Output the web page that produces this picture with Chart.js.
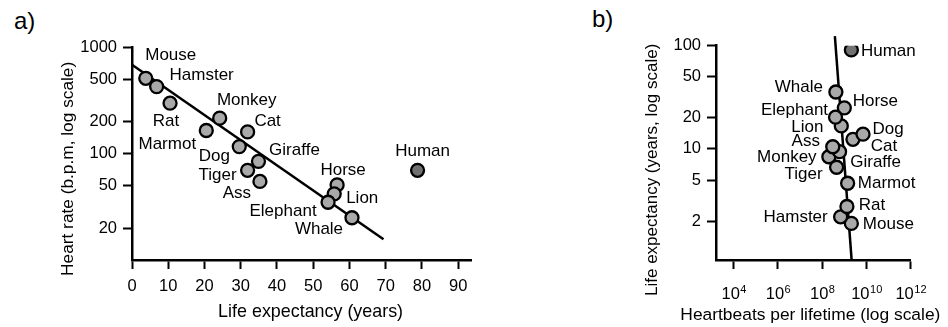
<!DOCTYPE html>
<html>
<head>
<meta charset="utf-8">
<script src="https://cdn.jsdelivr.net/npm/chart.js@4.4.1/dist/chart.umd.min.js"></script>
<style>
  body { margin: 0; background: #fff; width: 948px; height: 327px; position: relative; overflow: hidden;
         font-family: "Liberation Sans", Arial, sans-serif; }
  .panel-label { position: absolute; font-size: 24px; line-height: 1; color: #000; }
  #wrapA { position: absolute; left: 0; top: 0; width: 480px; height: 327px; }
  #wrapB { position: absolute; left: 600px; top: 0; width: 348px; height: 327px; }
</style>
</head>
<body>
<div class="panel-label" style="left:14px; top:9px">a)</div>
<div class="panel-label" style="left:592px; top:7px">b)</div>
<div id="wrapA"><canvas id="chartA"></canvas></div>
<div id="wrapB"><canvas id="chartB"></canvas></div>
<script>
// species, same order in both panels
const animals = ['Mouse', 'Hamster', 'Rat', 'Monkey', 'Marmot', 'Cat', 'Dog', 'Giraffe',
                 'Tiger', 'Ass', 'Horse', 'Lion', 'Elephant', 'Whale', 'Human'];

// panel a: life expectancy (years) vs heart rate (b.p.m.)
const lifeExpectancyA = [3.8, 6.8, 10.5, 24.2, 20.5, 31.9, 29.6, 34.9, 31.9, 35.3, 56.6, 55.8, 54.1, 60.7, 78.8];
const heartRate = [515, 430, 300, 217, 166, 161, 117, 85, 70, 55, 51, 42, 35, 25, 70];
const fitLineAx = [0, 69.4];
const fitLineAy = [690, 15.7];
const xTicksA = [0, 10, 20, 30, 40, 50, 60, 70, 80, 90];
const yTicksA = [20, 50, 100, 200, 500, 1000];

// panel b: heartbeats per lifetime vs life expectancy (years)
const heartbeats = [2.08e9, 6.8e8, 1.31e9, 2.0e8, 1.41e9, 2.45e9, 7.0e9, 6.1e8,
                    4.47e8, 3.0e8, 1.0e9, 7.3e8, 4.0e8, 4.15e8, 2.08e9];
const lifeExpectancyB = [1.9, 2.2, 2.77, 8.4, 4.65, 12.4, 13.9, 9.4, 6.65, 10.5, 25, 16.7, 20.3, 35.6, 91];
const fitLineBx = [3.74e8, 2.15e9];
const fitLineBy = [124, 0.83];
const xTicksB = [1e4, 1e6, 1e8, 1e10, 1e12];
const xTickExponentsB = ['4', '6', '8', '10', '12'];
const yTicksB = [2, 5, 10, 20, 50, 100];

// label placement (pixel offset from each point), kept apart from the data
const labelOffsetA = [[25, -23], [45, -11], [-4, 18], [27, -18], [-39, 14], [20, -11], [-25, 10], [36, -11],
                      [-30, 5], [-23, 12], [6, -15], [28, 4], [-45, 9], [-33, 12], [5, -19]];
const labelOffsetB = [[37, 1], [-45, 0], [25, -1], [-42, 1], [39, 0], [31, 7], [25, -5], [36, 11],
                      [-33, 7], [-27, -5], [31, -7], [-34, 1], [-41, -7], [-37, -5], [37, 1]];

const FONT = '"Liberation Sans", Arial, sans-serif';
const pointFill = animals.map(a => a === 'Human' ? '#717171' : '#a9a9a9');

Chart.defaults.font.family = FONT;
Chart.defaults.color = '#000';

// draws species names next to the points
const pointLabels = {
    id: 'pointLabels',
    afterDatasetsDraw(chart, args, opts) {
        const ctx = chart.ctx;
        const meta = chart.getDatasetMeta(0);
        ctx.save();
        ctx.font = '17px ' + FONT;
        ctx.fillStyle = '#000';
        ctx.textAlign = 'center';
        ctx.textBaseline = 'middle';
        meta.data.forEach((pt, i) => {
            const off = opts.offsets[i];
            ctx.fillText(animals[i], pt.x + off[0], pt.y + off[1]);
        });
        ctx.restore();
    }
};

// axis titles, placed relative to the plot area
const axisTitles = {
    id: 'axisTitles',
    afterDraw(chart, args, opts) {
        const ctx = chart.ctx;
        const area = chart.chartArea;
        ctx.save();
        ctx.fillStyle = '#000';
        ctx.textAlign = 'center';
        ctx.textBaseline = 'middle';
        ctx.font = opts.x.size + 'px ' + FONT;
        ctx.fillText(opts.x.text, (area.left + area.right) / 2 + opts.x.dx, opts.x.y);
        ctx.translate(opts.y.x, (area.top + area.bottom) / 2 + opts.y.dy);
        ctx.rotate(-Math.PI / 2);
        ctx.font = opts.y.size + 'px ' + FONT;
        ctx.fillText(opts.y.text, 0, 0);
        ctx.restore();
    }
};

// powers of ten under the log x axis of panel b
const powerTicks = {
    id: 'powerTicks',
    afterDraw(chart, args, opts) {
        if (!opts.exponents) return;
        const ctx = chart.ctx;
        const xs = chart.scales.x;
        ctx.save();
        ctx.fillStyle = '#000';
        ctx.textAlign = 'left';
        ctx.textBaseline = 'alphabetic';
        xs.ticks.forEach((t, i) => {
            const px = xs.getPixelForValue(t.value);
            ctx.font = '16.5px ' + FONT;
            const wBase = ctx.measureText('10').width;
            ctx.font = '11px ' + FONT;
            const wExp = ctx.measureText(opts.exponents[i]).width;
            const left = px - (wBase + wExp) / 2;
            ctx.font = '16.5px ' + FONT;
            ctx.fillText('10', left, opts.baseline);
            ctx.font = '11px ' + FONT;
            ctx.fillText(opts.exponents[i], left + wBase + 0.5, opts.baseline - 5.5);
        });
        ctx.restore();
    }
};

function axisStyle() {
    return {
        grid: { display: true, drawOnChartArea: false, drawTicks: true, tickLength: 9, tickWidth: 2, tickColor: '#000' },
        border: { display: true, color: '#000', width: 2.5 }
    };
}

function makeChart(id, cfg) {
    const pts = cfg.xs.map((x, i) => ({ x: x, y: cfg.ys[i] }));
    const fit = cfg.fitX.map((x, i) => ({ x: x, y: cfg.fitY[i] }));
    return new Chart(document.getElementById(id).getContext('2d'), {
        type: 'scatter',
        data: {
            datasets: [{
                data: pts,
                pointRadius: 6.5,
                pointBorderWidth: 2.3,
                pointBorderColor: '#000',
                pointBackgroundColor: pointFill
            }, {
                type: 'line',
                data: fit,
                showLine: true,
                pointRadius: 0,
                borderColor: '#000',
                borderWidth: 2.5,
                fill: false,
                clip: false
            }]
        },
        options: {
            responsive: true,
            maintainAspectRatio: false,
            animation: false,
            events: [],
            layout: { padding: cfg.padding },
            plugins: {
                legend: { display: false },
                tooltip: { enabled: false },
                pointLabels: { offsets: cfg.offsets },
                axisTitles: cfg.titles,
                powerTicks: cfg.powers || {}
            },
            scales: {
                x: Object.assign(axisStyle(), {
                    type: cfg.xType,
                    min: cfg.xMin,
                    max: cfg.xMax,
                    afterBuildTicks: s => { s.ticks = cfg.xTicks.map(v => ({ value: v })); },
                    afterFit: s => { s.height = 67; },
                    ticks: {
                        display: !cfg.powers,
                        autoSkip: false, maxRotation: 0, padding: 8,
                        font: { size: 16.5 },
                        callback: v => String(v)
                    }
                }),
                y: Object.assign(axisStyle(), {
                    type: 'logarithmic',
                    min: cfg.yMin,
                    max: cfg.yMax,
                    afterBuildTicks: s => { s.ticks = cfg.yTicks.map(v => ({ value: v })); },
                    afterFit: s => { s.width = cfg.yWidth; },
                    ticks: {
                        autoSkip: false, padding: 6,
                        font: { size: 16.5 },
                        callback: v => String(v)
                    }
                })
            }
        },
        plugins: [pointLabels, axisTitles, powerTicks]
    });
}

makeChart('chartA', {
    xs: lifeExpectancyA, ys: heartRate, fitX: fitLineAx, fitY: fitLineAy,
    xType: 'linear', xMin: 0, xMax: 93.6, xTicks: xTicksA,
    yMin: 10, yMax: 1000, yTicks: yTicksA, yWidth: 132,
    padding: { left: 0, right: 8, top: 47.7, bottom: 0 },
    offsets: labelOffsetA,
    titles: {
        x: { text: 'Life expectancy (years)', dx: 9, y: 312, size: 17.9 },
        y: { text: 'Heart rate (b.p.m, log scale)', x: 68, dy: 15, size: 17.3 }
    }
});

makeChart('chartB', {
    xs: heartbeats, ys: lifeExpectancyB, fitX: fitLineBx, fitY: fitLineBy,
    xType: 'logarithmic', xMin: Math.pow(10, 3.2), xMax: 1e12, xTicks: xTicksB,
    powers: { exponents: xTickExponentsB, baseline: 298.5 },
    yMin: 0.84, yMax: 100, yTicks: yTicksB, yWidth: 116,
    padding: { left: 0, right: 37.3, top: 45.7, bottom: 0 },
    offsets: labelOffsetB,
    titles: {
        x: { text: 'Heartbeats per lifetime (log scale)', dx: -3, y: 315, size: 17.4 },
        y: { text: 'Life expectancy (years, log scale)', x: 52.5, dy: 17, size: 17 }
    }
});
</script>
</body>
</html>
